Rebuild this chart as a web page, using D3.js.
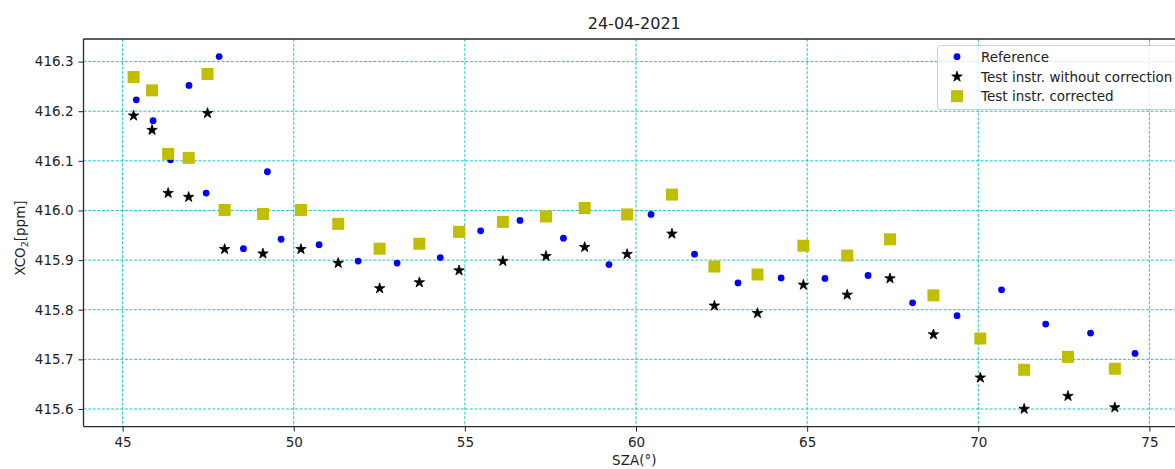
<!DOCTYPE html>
<html>
<head>
<meta charset="utf-8">
<script src="https://cdn.jsdelivr.net/npm/d3@7"></script>
<style>
  html, body { margin: 0; padding: 0; background: #fff; overflow: hidden; }
  text { font-family: "DejaVu Sans", sans-serif; fill: #222; }
</style>
</head>
<body>
<svg id="chart" width="1175" height="469"></svg>
<script>
// ---- data ----
const title = "24-04-2021";
const xTicks = [45, 50, 55, 60, 65, 70, 75];
const yTicks = [415.6, 415.7, 415.8, 415.9, 416.0, 416.1, 416.2, 416.3];

const refSZA = [45.40, 45.89, 46.40, 46.94, 47.44, 47.82, 48.53, 49.23, 49.63, 50.74,
                51.88, 53.02, 54.28, 55.46, 56.61, 57.88, 59.21, 60.44, 61.71, 62.98,
                64.24, 65.52, 66.78, 68.08, 69.38, 70.68, 71.97, 73.28, 74.58];
const refXCO2 = [416.223, 416.181, 416.102, 416.252, 416.035, 416.310, 415.923, 416.078, 415.942, 415.931,
                 415.898, 415.894, 415.905, 415.959, 415.980, 415.944, 415.891, 415.992, 415.912, 415.854,
                 415.864, 415.863, 415.869, 415.814, 415.788, 415.840, 415.771, 415.753, 415.712];

const testSZA = [45.32, 45.86, 46.33, 46.93, 47.48, 47.98, 49.10, 50.21, 51.30, 52.51,
                 53.67, 54.83, 56.11, 57.37, 58.50, 59.74, 61.05, 62.29, 63.55, 64.89,
                 66.17, 67.42, 68.69, 70.06, 71.34, 72.62, 73.99];
const rawXCO2 = [416.191, 416.162, 416.035, 416.027, 416.196, 415.922, 415.913, 415.922, 415.894, 415.843,
                 415.855, 415.879, 415.898, 415.908, 415.926, 415.912, 415.953, 415.808, 415.793, 415.850,
                 415.830, 415.863, 415.750, 415.663, 415.600, 415.626, 415.603];
const corXCO2 = [416.269, 416.242, 416.114, 416.106, 416.275, 416.001, 415.993, 416.001, 415.973, 415.923,
                 415.933, 415.957, 415.977, 415.988, 416.005, 415.992, 416.032, 415.887, 415.871, 415.929,
                 415.909, 415.942, 415.829, 415.742, 415.679, 415.705, 415.681];

const legendLabels = ["Reference", "Test instr. without correction", "Test instr. corrected"];

// ---- layout ----
const svg = d3.select("#chart");
const plot = { left: 83.5, right: 1185, top: 39, bottom: 426.6 };

const x = d3.scaleLinear().domain([43.857, 76.04]).range([plot.left, plot.right]);
const y = d3.scaleLinear().domain([415.5645, 416.3455]).range([plot.bottom, plot.top]);

const gridColor = "#00bfbf";
const grid = svg.append("g");
grid.selectAll("line.vx").data(xTicks).join("line")
  .attr("x1", d => x(d)).attr("x2", d => x(d))
  .attr("y1", plot.top).attr("y2", plot.bottom)
  .attr("stroke", gridColor).attr("stroke-width", 0.9).attr("stroke-dasharray", "3,1.6");
grid.selectAll("line.hy").data(yTicks).join("line")
  .attr("x1", plot.left).attr("x2", plot.right)
  .attr("y1", d => y(d)).attr("y2", d => y(d))
  .attr("stroke", gridColor).attr("stroke-width", 0.9).attr("stroke-dasharray", "3,1.6");

// axes
const xAxis = d3.axisBottom(x).tickValues(xTicks).tickFormat(d3.format("d")).tickSize(5).tickPadding(6);
const yAxis = d3.axisLeft(y).tickValues(yTicks).tickFormat(d3.format(".1f")).tickSize(5).tickPadding(5);

const gx = svg.append("g").attr("transform", `translate(0,${plot.bottom})`).call(xAxis);
const gy = svg.append("g").attr("transform", `translate(${plot.left},0)`).call(yAxis);
[gx, gy].forEach(g => {
  g.select(".domain").remove();
  g.selectAll(".tick line").attr("stroke", "#222").attr("stroke-width", 1);
  g.selectAll(".tick text").attr("font-family", "DejaVu Sans").attr("font-size", 13.5).attr("fill", "#222");
});

// spines
const spine = svg.append("g").attr("fill", "none").attr("stroke", "#2a2a2a").attr("stroke-width", 1.3);
spine.append("line").attr("x1", plot.left).attr("x2", plot.left).attr("y1", plot.top).attr("y2", plot.bottom);
spine.append("line").attr("x1", plot.left).attr("x2", plot.right).attr("y1", plot.bottom).attr("y2", plot.bottom);
spine.append("line").attr("x1", plot.left).attr("x2", plot.right).attr("y1", plot.top).attr("y2", plot.top);
spine.append("line").attr("x1", plot.right).attr("x2", plot.right).attr("y1", plot.top).attr("y2", plot.bottom);

// markers
const starPath = d3.symbol().type(d3.symbolStar).size(34)();
const squarePath = d3.symbol().type(d3.symbolSquare).size(144)();

const ref = refSZA.map((s, i) => ({ s, v: refXCO2[i] }));
const raw = testSZA.map((s, i) => ({ s, v: rawXCO2[i] }));
const cor = testSZA.map((s, i) => ({ s, v: corXCO2[i] }));

svg.append("g").selectAll("circle").data(ref).join("circle")
  .attr("cx", d => x(d.s)).attr("cy", d => y(d.v)).attr("r", 3.4).attr("fill", "#0000ff");

svg.append("g").selectAll("path").data(raw).join("path")
  .attr("d", starPath).attr("transform", d => `translate(${x(d.s)},${y(d.v)})`)
  .attr("fill", "#000").attr("stroke", "#000").attr("stroke-width", 0.8).attr("stroke-linejoin", "miter");

svg.append("g").selectAll("path").data(cor).join("path")
  .attr("d", squarePath).attr("transform", d => `translate(${x(d.s)},${y(d.v)})`)
  .attr("fill", "#bfbf00");

// title and labels
svg.append("text").attr("x", (plot.left + plot.right) / 2).attr("y", 29)
  .attr("text-anchor", "middle").attr("font-size", 16).text(title);

svg.append("text").attr("x", (plot.left + plot.right) / 2).attr("y", 465)
  .attr("text-anchor", "middle").attr("font-size", 13.5).text("SZA(°)");

const yl = svg.append("text")
  .attr("transform", "translate(25,238) rotate(-90)")
  .attr("text-anchor", "middle").attr("font-size", 13.5);
yl.append("tspan").text("XCO");
yl.append("tspan").attr("font-size", 9.5).attr("dy", 3).text("2");
yl.append("tspan").attr("dy", -3).text("[ppm]");

// legend
const lg = svg.append("g");
lg.append("rect").attr("x", 937.5).attr("y", 45.5).attr("width", 250).attr("height", 64)
  .attr("rx", 3).attr("fill", "#fff").attr("fill-opacity", 0.8)
  .attr("stroke", "#d0d0d0").attr("stroke-width", 1);
const rowsY = [56.7, 76.7, 96.2];
const mx = 957;
lg.append("circle").attr("cx", mx).attr("cy", rowsY[0]).attr("r", 3.4).attr("fill", "#0000ff");
lg.append("path").attr("d", starPath).attr("transform", `translate(${mx},${rowsY[1]})`)
  .attr("fill", "#000").attr("stroke", "#000").attr("stroke-width", 0.8);
lg.append("path").attr("d", squarePath).attr("transform", `translate(${mx},${rowsY[2]})`)
  .attr("fill", "#bfbf00");
lg.selectAll("text").data(legendLabels).join("text")
  .attr("x", 981).attr("y", (d, i) => rowsY[i] + 5)
  .attr("font-size", 13.5).text(d => d);
</script>
</body>
</html>
